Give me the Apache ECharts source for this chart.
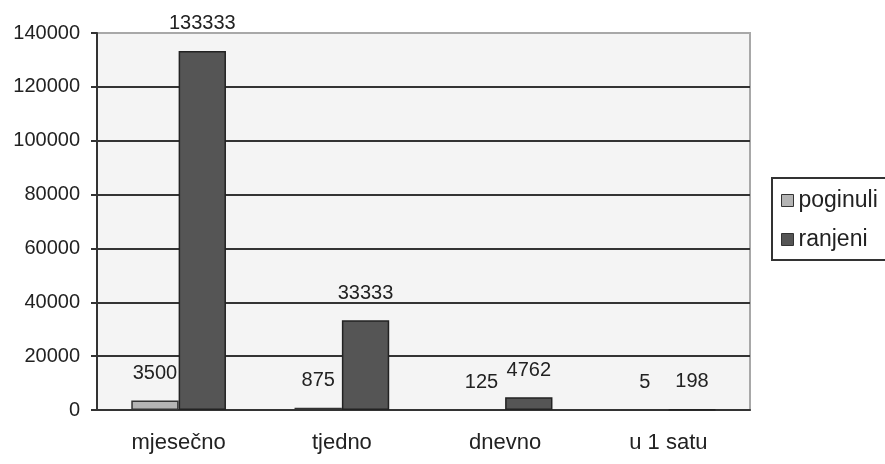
<!DOCTYPE html>
<html><head><meta charset="utf-8">
<script src="https://cdn.jsdelivr.net/npm/echarts@6/dist/echarts.min.js"></script>
<style>html,body{margin:0;padding:0;background:#fff}#c{width:885px;height:464px}</style>
</head><body><div id="c"></div>
<script>
const categories = ['mjesečno', 'tjedno', 'dnevno', 'u 1 satu'];
const poginuli = [3500, 875, 125, 5];
const ranjeni = [133333, 33333, 4762, 198];
const seriesNames = ['poginuli', 'ranjeni'];

const font = 'Liberation Sans, Arial, sans-serif';
const chart = echarts.init(document.getElementById('c'));
chart.setOption({
  animation: false,
  backgroundColor: '#fff',
  grid: { left: 97, right: 135, top: 33, bottom: 54, show: true, backgroundColor: '#f4f4f4', borderColor: '#a8a8a8', borderWidth: 2 },
  legend: {
    orient: 'vertical', left: 772, top: 178, data: seriesNames,
    borderColor: '#333', borderWidth: 2, padding: [11, 30, 9, 9], itemGap: 16,
    itemWidth: 12, itemHeight: 12, icon: 'rect',
    itemStyle: { borderColor: '#333', borderWidth: 1 },
    textStyle: { fontFamily: font, fontSize: 23, color: '#222', padding: [0, 0, 0, 0] }
  },
  xAxis: {
    type: 'category', data: categories,
    axisLine: { lineStyle: { color: '#333', width: 2 } },
    axisTick: { length: 6, lineStyle: { color: '#333', width: 2 } },
    axisLabel: { fontFamily: font, fontSize: 22, color: '#222', margin: 22 }
  },
  yAxis: {
    type: 'value', min: 0, max: 140000, interval: 20000,
    axisLine: { show: true, lineStyle: { color: '#333', width: 2 } },
    axisTick: { show: true, length: 6, lineStyle: { color: '#333', width: 2 } },
    axisLabel: { fontFamily: font, fontSize: 20, color: '#222', margin: 17, formatter: v => String(v) },
    splitLine: { lineStyle: { color: ['#333','#333','#333','#333','#333','#333','#333','#a8a8a8'], width: 2 } }
  },
  series: [
    { name: 'poginuli', type: 'bar', data: poginuli, barGap: '0%', barCategoryGap: '42%',
      itemStyle: { color: '#b4b4b4', borderColor: '#333', borderWidth: 1.5 },
      label: { show: true, position: 'top', distance: 17, fontFamily: font, fontSize: 20, color: '#222' } },
    { name: 'ranjeni', type: 'bar', data: ranjeni,
      itemStyle: { color: '#555', borderColor: '#222', borderWidth: 1.5 },
      label: { show: true, position: 'top', distance: 17, fontFamily: font, fontSize: 20, color: '#222' } }
  ]
});
</script></body></html>
